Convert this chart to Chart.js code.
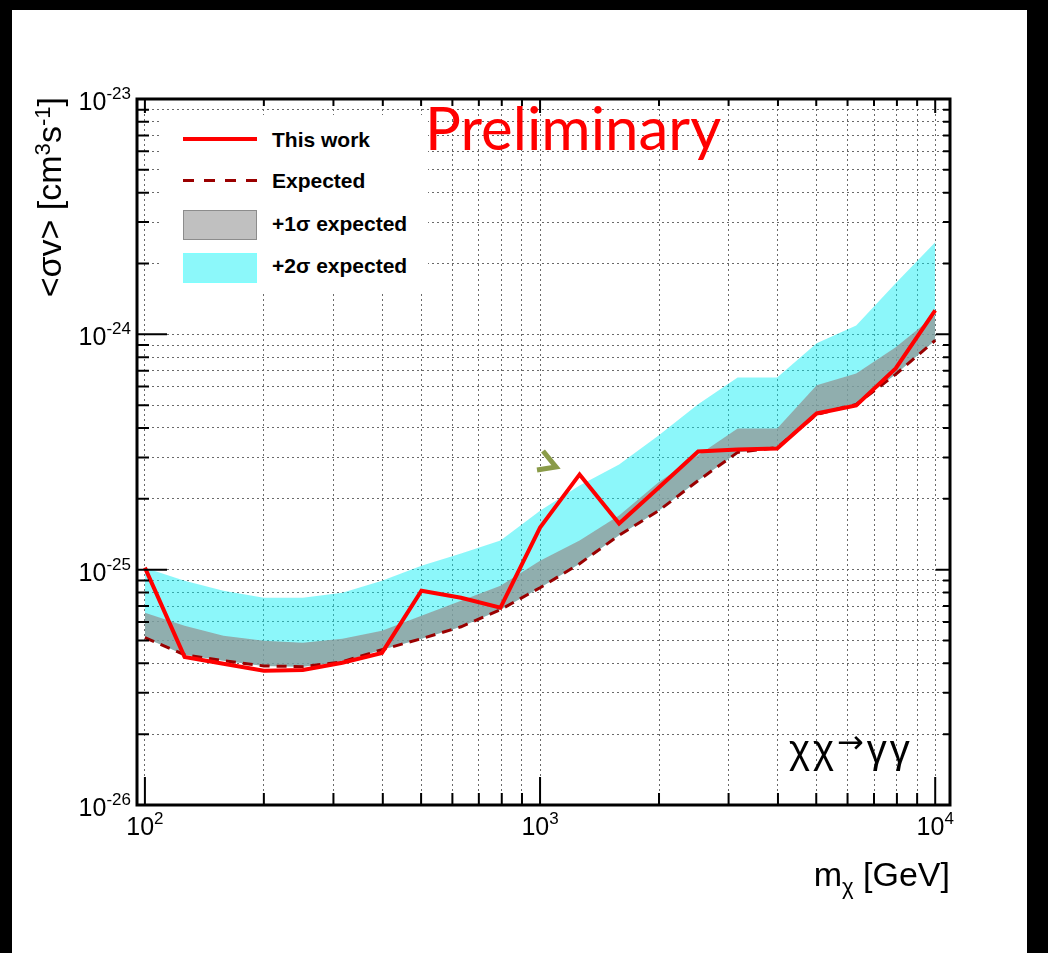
<!DOCTYPE html>
<html>
<head>
<meta charset="utf-8">
<title>chi chi to gamma gamma limits</title>
<script src="https://cdn.jsdelivr.net/npm/chart.js@4.4.1/dist/chart.umd.min.js"></script>
<style>
  body { margin: 0; background: #000; width: 1048px; height: 953px; overflow: hidden; position: relative;
         font-family: "Liberation Sans", Arial, sans-serif; }
  #sheet { position: absolute; left: 12px; top: 10px; width: 1015px; height: 943px; background: #fff; }
  #chart { position: absolute; left: 0; top: 0; }
  .txt { position: absolute; white-space: nowrap; color: #000; }
  .leg { font-weight: bold; font-size: 21px; line-height: 24px; left: 272px; }
  .sw { position: absolute; box-sizing: border-box; }
</style>
</head>
<body>
<div id="sheet"></div>
<canvas id="chart" width="1048" height="953"></canvas>

<!-- legend -->
<div class="sw" style="left:160px;top:115px;width:268px;height:177px;background:#fff;"></div>
<div class="sw" style="left:183px;top:137px;width:74px;height:4px;background:#ff0000;"></div>
<div class="sw" style="left:183px;top:179px;width:74px;height:3px;background:repeating-linear-gradient(to right,#9a0000 0 11px,transparent 11px 21px);"></div>
<div class="sw" style="left:183px;top:210px;width:74px;height:30px;border:1px solid #8c8c8c;background:#c0c0c0;"></div>
<div class="sw" style="left:183px;top:253px;width:74px;height:30px;border:1px solid #7fffff;background:#8cf8fa;"></div>
<div class="txt leg" style="top:128px;">This work</div>
<div class="txt leg" style="top:169px;">Expected</div>
<div class="txt leg" style="top:212px;">+1σ expected</div>
<div class="txt leg" style="top:254px;">+2σ expected</div>

<!-- annotations -->
<div class="txt" style="left:425px;top:96px;font-family:Lato,'Open Sans',sans-serif;font-size:60px;line-height:62px;color:#ff0000;">Preliminary</div>
<div class="txt" style="left:789px;top:726px;font-size:40px;line-height:46px;letter-spacing:3px;">χχ<span style="font-family:'DejaVu Sans';font-size:0.8em;position:relative;top:-0.3em;">→</span>γγ</div>
<svg style="position:absolute;left:530px;top:445px;" width="35" height="35">
  <polyline points="13,6 26,22 7,25" fill="none" stroke="#8a9b49" stroke-width="5" stroke-linejoin="miter"/>
</svg>

<!-- axis titles -->
<div class="txt" style="right:98px;top:854px;font-size:34px;line-height:40px;">m<span style="font-size:0.65em;position:relative;top:0.35em;">χ</span> [GeV]</div>
<div class="txt" style="left:29px;top:357px;width:260px;text-align:right;font-size:34px;line-height:40px;transform-origin:0 0;transform:rotate(-90deg);">&lt;σv&gt; [cm<span style="font-size:0.65em;position:relative;top:-0.5em;">3</span>s<span style="font-size:0.65em;position:relative;top:-0.5em;">-1</span>]</div>

<script>
'use strict'

// ************* Data ****************
let massGeV = [100, 126, 158, 200, 251, 316, 398, 501, 631, 794, 1000, 1259, 1585, 1995, 2512, 3162, 3981, 5012, 6310, 7943, 10000];
let thisWork = [1.02e-25, 4.26e-26, 3.98e-26, 3.72e-26, 3.75e-26, 4.02e-26, 4.43e-26, 8.14e-26, 7.60e-26, 6.89e-26, 1.51e-25, 2.54e-25, 1.57e-25, 2.23e-25, 3.18e-25, 3.24e-25, 3.27e-25, 4.61e-25, 4.99e-25, 7.17e-25, 1.265e-24];
let expected = [5.14e-26, 4.35e-26, 4.10e-26, 3.90e-26, 3.87e-26, 4.06e-26, 4.57e-26, 5.09e-26, 5.72e-26, 6.76e-26, 8.38e-26, 1.06e-25, 1.40e-25, 1.78e-25, 2.39e-25, 3.15e-25, 3.30e-25, 4.57e-25, 5.04e-25, 6.76e-25, 9.43e-25];
let plusOneSigma = [6.56e-26, 5.78e-26, 5.24e-26, 4.99e-26, 4.89e-26, 5.09e-26, 5.50e-26, 6.37e-26, 7.38e-26, 8.55e-26, 1.09e-25, 1.33e-25, 1.70e-25, 2.35e-25, 3.06e-25, 3.98e-25, 3.98e-25, 6.07e-25, 6.82e-25, 8.81e-25, 1.205e-24];
let plusTwoSigma = [1.02e-25, 8.98e-26, 8.14e-26, 7.60e-26, 7.60e-26, 7.98e-26, 8.98e-26, 1.04e-25, 1.17e-25, 1.33e-25, 1.78e-25, 2.28e-25, 2.80e-25, 3.72e-25, 5.04e-25, 6.56e-25, 6.56e-25, 9.16e-25, 1.09e-24, 1.65e-24, 2.46e-24];

// ************* Ticks ****************
let xMajorTicks = [100, 1000, 10000];
let xTickLabels = ['2', '3', '4'];
let xMinorTicks = [200, 300, 400, 500, 600, 700, 800, 900, 2000, 3000, 4000, 5000, 6000, 7000, 8000, 9000];
let yMajorTicks = [1e-26, 1e-25, 1e-24, 1e-23];
let yTickLabels = ['-26', '-25', '-24', '-23'];
let yMinorTicks = [2e-26, 3e-26, 4e-26, 5e-26, 6e-26, 7e-26, 8e-26, 9e-26,
                   2e-25, 3e-25, 4e-25, 5e-25, 6e-25, 7e-25, 8e-25, 9e-25,
                   2e-24, 3e-24, 4e-24, 5e-24, 6e-24, 7e-24, 8e-24, 9e-24];

// ************ Helper Functions **********
function toPoints(values) {
  return massGeV.map((m, i) => ({x: m, y: values[i]}));
}

function drawPowerOfTen(ctx, power, x, baseY, anchor) {
  ctx.font = '25px "Liberation Sans", Arial, sans-serif';
  let wBase = ctx.measureText('10').width;
  ctx.font = '17px "Liberation Sans", Arial, sans-serif';
  let wExp = ctx.measureText(power).width;
  let left = anchor === 'center' ? x - (wBase + wExp) / 2 : x - wBase - wExp;
  ctx.textAlign = 'left';
  ctx.textBaseline = 'alphabetic';
  ctx.font = '25px "Liberation Sans", Arial, sans-serif';
  ctx.fillText('10', left, baseY);
  ctx.font = '17px "Liberation Sans", Arial, sans-serif';
  ctx.fillText(power, left + wBase, baseY - 11);
}

// ROOT style frame, ticks and labels
const rootAxes = {
  id: 'rootAxes',
  afterDraw(chart) {
    let ctx = chart.ctx;
    let a = chart.chartArea;
    let xs = chart.scales.x;
    let ys = chart.scales.y;
    ctx.save();
    ctx.strokeStyle = '#000';
    ctx.fillStyle = '#000';
    ctx.setLineDash([]);
    ctx.lineWidth = 2;
    ctx.beginPath();
    xMajorTicks.forEach(v => {
      let px = xs.getPixelForValue(v);
      ctx.moveTo(px, a.bottom); ctx.lineTo(px, a.bottom - 28);
      ctx.moveTo(px, a.top); ctx.lineTo(px, a.top + 14);
    });
    xMinorTicks.forEach(v => {
      let px = xs.getPixelForValue(v);
      ctx.moveTo(px, a.bottom); ctx.lineTo(px, a.bottom - 12);
      ctx.moveTo(px, a.top); ctx.lineTo(px, a.top + 7);
    });
    yMajorTicks.forEach(v => {
      let py = ys.getPixelForValue(v);
      ctx.moveTo(a.left, py); ctx.lineTo(a.left + 30, py);
      ctx.moveTo(a.right, py); ctx.lineTo(a.right - 14, py);
    });
    yMinorTicks.forEach(v => {
      let py = ys.getPixelForValue(v);
      ctx.moveTo(a.left, py); ctx.lineTo(a.left + 12, py);
      ctx.moveTo(a.right, py); ctx.lineTo(a.right - 7, py);
    });
    ctx.stroke();
    ctx.lineWidth = 3;
    ctx.strokeRect(a.left, a.top, a.right - a.left, a.bottom - a.top);

    xMajorTicks.forEach((v, i) => drawPowerOfTen(ctx, xTickLabels[i], xs.getPixelForValue(v), 835, 'center'));
    yMajorTicks.forEach((v, i) => drawPowerOfTen(ctx, yTickLabels[i], 131, ys.getPixelForValue(v) + 11, 'right'));
    ctx.restore();
  }
};

let gridStyle = {color: '#6a6a6a', lineWidth: 1, drawTicks: false, borderDash: [2, 3]};

// ************ Chart **************
let myChart = new Chart(document.getElementById('chart'), {
  type: 'line',
  data: {
    datasets: [
      {label: 'This work', data: toPoints(thisWork), borderColor: '#ff0000', borderWidth: 4, pointRadius: 0, fill: false},
      {label: 'Expected', data: toPoints(expected), borderColor: '#9a0000', borderWidth: 3, borderDash: [10, 7], pointRadius: 0, fill: false},
      {label: '+1σ expected', data: toPoints(plusOneSigma), borderWidth: 0, pointRadius: 0, backgroundColor: 'rgba(145, 145, 145, 0.72)', fill: 1},
      {label: '+2σ expected', data: toPoints(plusTwoSigma), borderWidth: 0, pointRadius: 0, backgroundColor: 'rgba(0, 238, 245, 0.45)', fill: 1}
    ]
  },
  options: {
    responsive: false,
    animation: false,
    events: [],
    layout: {padding: {left: 137, right: 98, top: 99, bottom: 148}},
    plugins: {legend: {display: false}, tooltip: {enabled: false}},
    scales: {
      x: {
        type: 'logarithmic',
        min: 95.5,
        max: 10900,
        afterBuildTicks: s => { s.ticks = xMajorTicks.concat(xMinorTicks).map(v => ({value: v})); },
        afterFit: s => { s.height = 0; },
        ticks: {display: false},
        grid: gridStyle,
        border: {display: false, dash: [2, 3]}
      },
      y: {
        type: 'logarithmic',
        min: 1e-26,
        max: 1e-23,
        afterBuildTicks: s => { s.ticks = yMajorTicks.concat(yMinorTicks).map(v => ({value: v})); },
        afterFit: s => { s.width = 0; },
        ticks: {display: false},
        grid: gridStyle,
        border: {display: false, dash: [2, 3]}
      }
    }
  },
  plugins: [rootAxes]
});
</script>
</body>
</html>
